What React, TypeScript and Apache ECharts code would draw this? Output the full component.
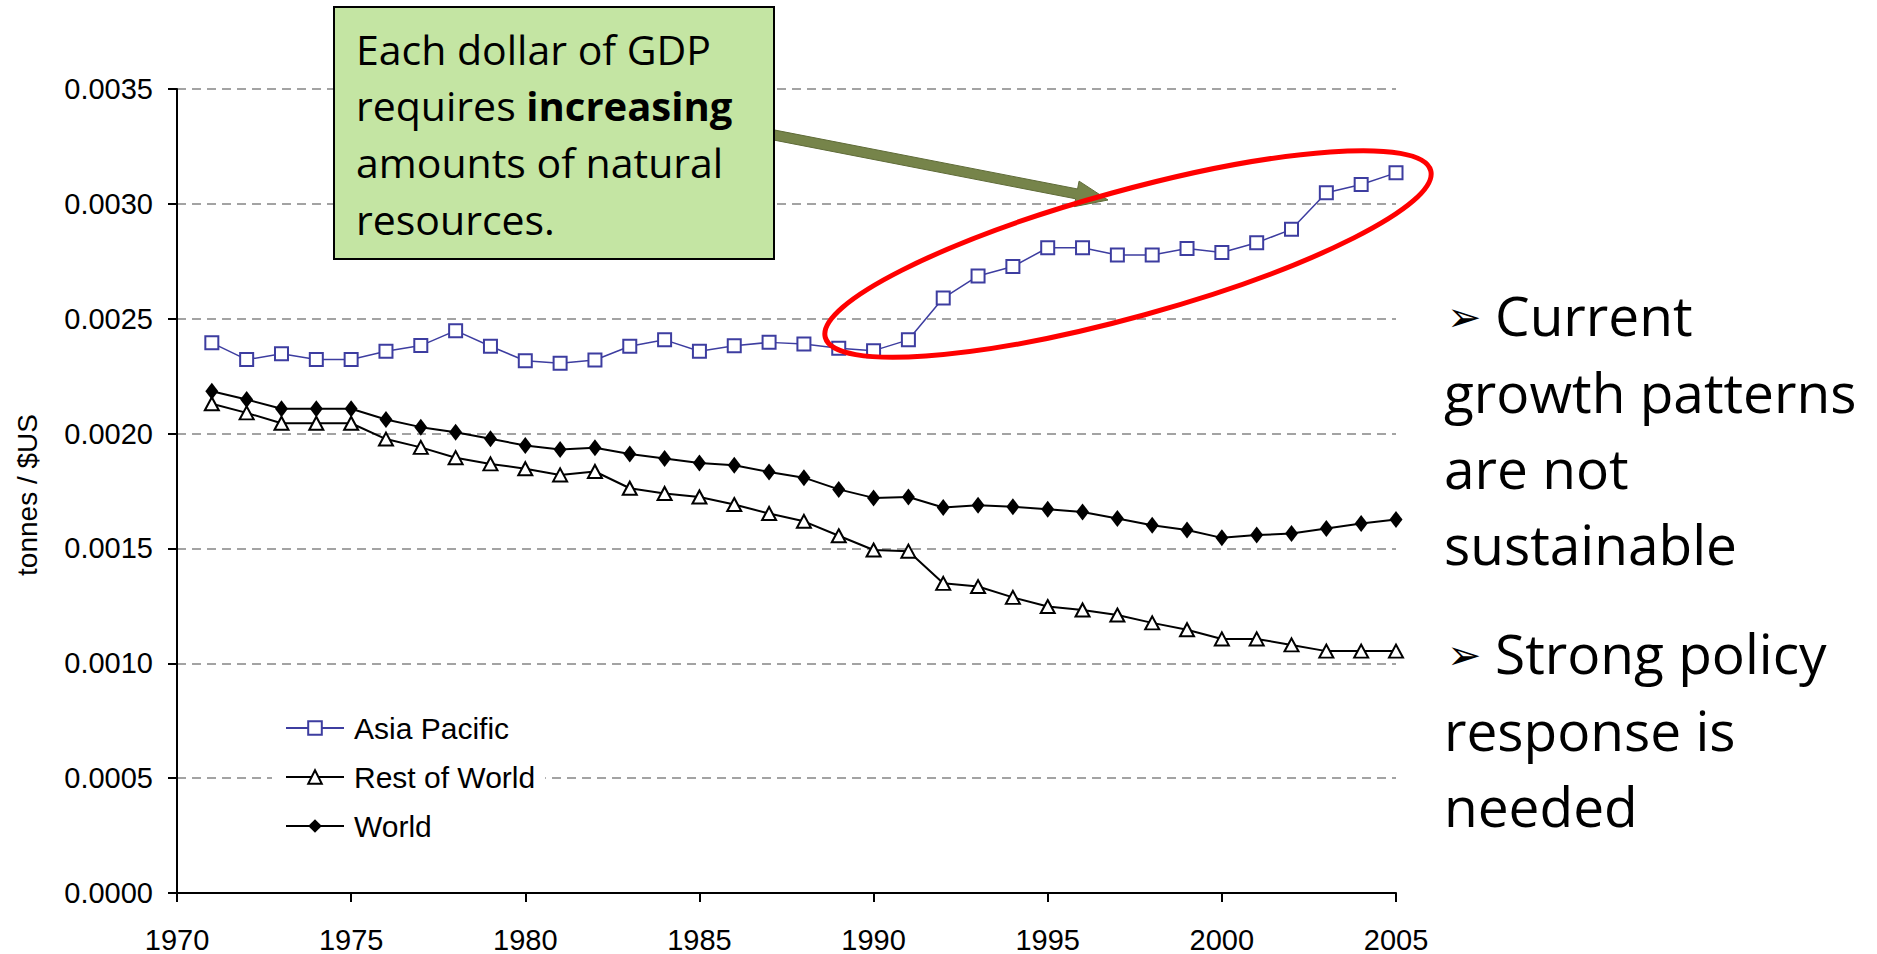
import React, { useEffect, useRef } from 'react';
import * as echarts from 'echarts';

const years = [
  1971, 1972, 1973, 1974, 1975, 1976, 1977, 1978, 1979, 1980,
  1981, 1982, 1983, 1984, 1985, 1986, 1987, 1988, 1989, 1990,
  1991, 1992, 1993, 1994, 1995, 1996, 1997, 1998, 1999, 2000,
  2001, 2002, 2003, 2004, 2005,
];

const asiaPacific = [
  0.002395, 0.002322, 0.002347, 0.002322, 0.002322, 0.002358, 0.002383, 0.002448, 0.00238, 0.002317,
  0.002306, 0.00232, 0.00238, 0.002408, 0.002358, 0.002382, 0.002397, 0.00239, 0.002371, 0.002361,
  0.002408, 0.00259, 0.002686, 0.002727, 0.002809, 0.002809, 0.002777, 0.002777, 0.002806, 0.002788,
  0.002831, 0.002889, 0.003048, 0.003084, 0.003135,
];

const restOfWorld = [
  0.00213, 0.00209, 0.002045, 0.002045, 0.002045, 0.001976, 0.00194, 0.001895, 0.001868, 0.001847,
  0.00182, 0.001835, 0.001762, 0.001739, 0.001724, 0.001691, 0.001652, 0.001618, 0.001555, 0.001493,
  0.001488, 0.001348, 0.001334, 0.001287, 0.001247, 0.001232, 0.00121, 0.001176, 0.001146, 0.001106,
  0.001106, 0.00108, 0.001053, 0.001053, 0.001053,
];

const world = [
  0.002184, 0.002148, 0.002108, 0.002108, 0.002108, 0.002061, 0.002028, 0.002006, 0.001977, 0.001948,
  0.001931, 0.001938, 0.001911, 0.001891, 0.001872, 0.001862, 0.001833, 0.001808, 0.001757, 0.00172,
  0.001724, 0.001678, 0.001688, 0.001681, 0.001671, 0.001659, 0.00163, 0.001601, 0.00158, 0.001546,
  0.001558, 0.001565, 0.001587, 0.001609, 0.001626,
];

const seriesNames = ['Asia Pacific', 'Rest of World', 'World'];
const yAxisTitle = 'tonnes / $US';
const calloutLines = ['Each dollar of GDP', 'requires {b|increasing}', 'amounts of natural', 'resources.'];
const bulletBlockA = ['Current', 'growth patterns', 'are not', 'sustainable'];
const bulletBlockB = ['Strong policy', 'response is', 'needed'];
const bulletGlyph = '\u27A2';

const AXIS_FONT = '"Liberation Sans", Arial, sans-serif';
const TEXT_FONT = '"Open Sans", "Noto Sans", sans-serif';

function buildOption() {
  const toPairs = (vals: number[]) => years.map((y, i) => [y, vals[i]]);

  const calloutY = [49, 105, 162, 219];
  const rightYA = [314, 391, 467, 543];
  const rightYB = [652, 729, 805];

  // arrow geometry (annotation)
  const sx = 774, sy = 135, tx = 1108, ty = 200;
  const dx = tx - sx, dy = ty - sy;
  const len = Math.sqrt(dx * dx + dy * dy);
  const ux = dx / len, uy = dy / len;
  const nx = -uy, ny = ux;
  const headLen = 32, headHalf = 13, shaftHalf = 5;
  const bx = tx - headLen * ux, by = ty - headLen * uy;
  const arrowPts = [
    [sx + shaftHalf * nx, sy + shaftHalf * ny],
    [sx - shaftHalf * nx, sy - shaftHalf * ny],
    [bx - shaftHalf * nx, by - shaftHalf * ny],
    [bx - headHalf * nx, by - headHalf * ny],
    [tx, ty],
    [bx + headHalf * nx, by + headHalf * ny],
    [bx + shaftHalf * nx, by + shaftHalf * ny],
  ];

  const bullet = (y: number) => ({
    type: 'text', z: 5, x: 1447, y,
    style: {
      text: bulletGlyph, fontSize: 41, fontFamily: '"DejaVu Sans", sans-serif', fill: '#000',
      align: 'left', verticalAlign: 'middle',
    },
  });

  const graphics: any[] = [
    {
      type: 'rect', z: 20,
      shape: { x: 334, y: 7, width: 440, height: 252 },
      style: { fill: '#c4e5a3', stroke: '#000', lineWidth: 2 },
    },
    ...calloutLines.map((t, i) => ({
      type: 'text', z: 21, x: 356, y: calloutY[i],
      style: {
        text: t, fontSize: 41, fontFamily: TEXT_FONT, fill: '#000',
        align: 'left', verticalAlign: 'middle',
        rich: { b: { fontSize: 40, fontFamily: TEXT_FONT, fontWeight: 'bold', fill: '#000' } },
      },
    })),
    {
      type: 'polygon', z: 19,
      shape: { points: arrowPts },
      style: { fill: '#76844a', stroke: '#5f6b38', lineWidth: 1 },
    },
    {
      type: 'ellipse', z: 22, x: 1128, y: 254, rotation: 0.269,
      shape: { cx: 0, cy: 0, rx: 314, ry: 63 },
      style: { fill: 'none', stroke: '#ff0000', lineWidth: 5 },
    },
    {
      type: 'text', z: 5, x: 27, y: 495, rotation: Math.PI / 2,
      style: {
        text: yAxisTitle, fontSize: 28, fontFamily: AXIS_FONT, fill: '#000',
        align: 'center', verticalAlign: 'middle',
      },
    },
    bullet(rightYA[0] + 3),
    bullet(rightYB[0] + 3),
    ...bulletBlockA.map((t, i) => ({
      type: 'text', z: 5, x: i === 0 ? 1495 : 1444, y: rightYA[i],
      style: { text: t, fontSize: 55, fontFamily: TEXT_FONT, fill: '#000', align: 'left', verticalAlign: 'middle' },
    })),
    ...bulletBlockB.map((t, i) => ({
      type: 'text', z: 5, x: i === 0 ? 1495 : 1444, y: rightYB[i],
      style: { text: t, fontSize: 55, fontFamily: TEXT_FONT, fill: '#000', align: 'left', verticalAlign: 'middle' },
    })),
  ];

  return {
    animation: false,
    backgroundColor: '#fff',
    grid: { left: 177, top: 89, right: 481, bottom: 58, containLabel: false },
    xAxis: {
      type: 'value', min: 1970, max: 2005, interval: 5,
      axisLine: { show: true, lineStyle: { color: '#000', width: 2 } },
      axisTick: { show: true, length: 9, lineStyle: { color: '#000', width: 2 } },
      axisLabel: {
        margin: 32, fontSize: 29, fontFamily: AXIS_FONT, color: '#000',
        formatter: (v: number) => String(v),
      },
      splitLine: { show: false },
    },
    yAxis: {
      type: 'value', min: 0, max: 0.0035, interval: 0.0005,
      axisLine: { show: true, lineStyle: { color: '#000', width: 2 } },
      axisTick: { show: true, length: 9, lineStyle: { color: '#000', width: 2 } },
      axisLabel: {
        margin: 24, fontSize: 29, fontFamily: AXIS_FONT, color: '#000',
        formatter: (v: number) => v.toFixed(4),
      },
      splitLine: { show: true, lineStyle: { color: '#a3a3a3', width: 2, type: [9, 6] } },
    },
    legend: {
      orient: 'vertical', left: 272, top: 705,
      padding: [8, 10, 8, 13],
      backgroundColor: '#fff',
      itemWidth: 58, itemHeight: 17, itemGap: 19,
      textStyle: { fontSize: 30, fontFamily: AXIS_FONT, color: '#000', padding: [0, 0, 0, 5] },
      data: seriesNames,
    },
    series: [
      {
        name: seriesNames[0], type: 'line', data: toPairs(asiaPacific),
        symbol: 'emptyRect', symbolSize: 13, z: 4,
        lineStyle: { color: '#3d3da0', width: 1.5 },
        itemStyle: { color: '#3d3da0', borderColor: '#3d3da0', borderWidth: 1.5 },
      },
      {
        name: seriesNames[1], type: 'line', data: toPairs(restOfWorld),
        symbol: 'emptyTriangle', symbolSize: [14, 13], z: 3,
        lineStyle: { color: '#000', width: 2 },
        itemStyle: { color: '#000', borderColor: '#000', borderWidth: 1.5 },
      },
      {
        name: seriesNames[2], type: 'line', data: toPairs(world),
        symbol: 'diamond', symbolSize: [13, 17], z: 3,
        lineStyle: { color: '#000', width: 2 },
        itemStyle: { color: '#000' },
      },
    ],
    graphic: graphics,
  };
}

export default function App() {
  const ref = useRef<HTMLDivElement>(null);
  useEffect(() => {
    if (!ref.current) return;
    const chart = echarts.init(ref.current, null, { renderer: 'svg' });
    chart.setOption(buildOption() as any);
    return () => chart.dispose();
  }, []);
  return (
    <div
      ref={ref}
      style={{ position: 'absolute', left: 0, top: 0, width: 1877, height: 954, background: '#fff' }}
    />
  );
}
